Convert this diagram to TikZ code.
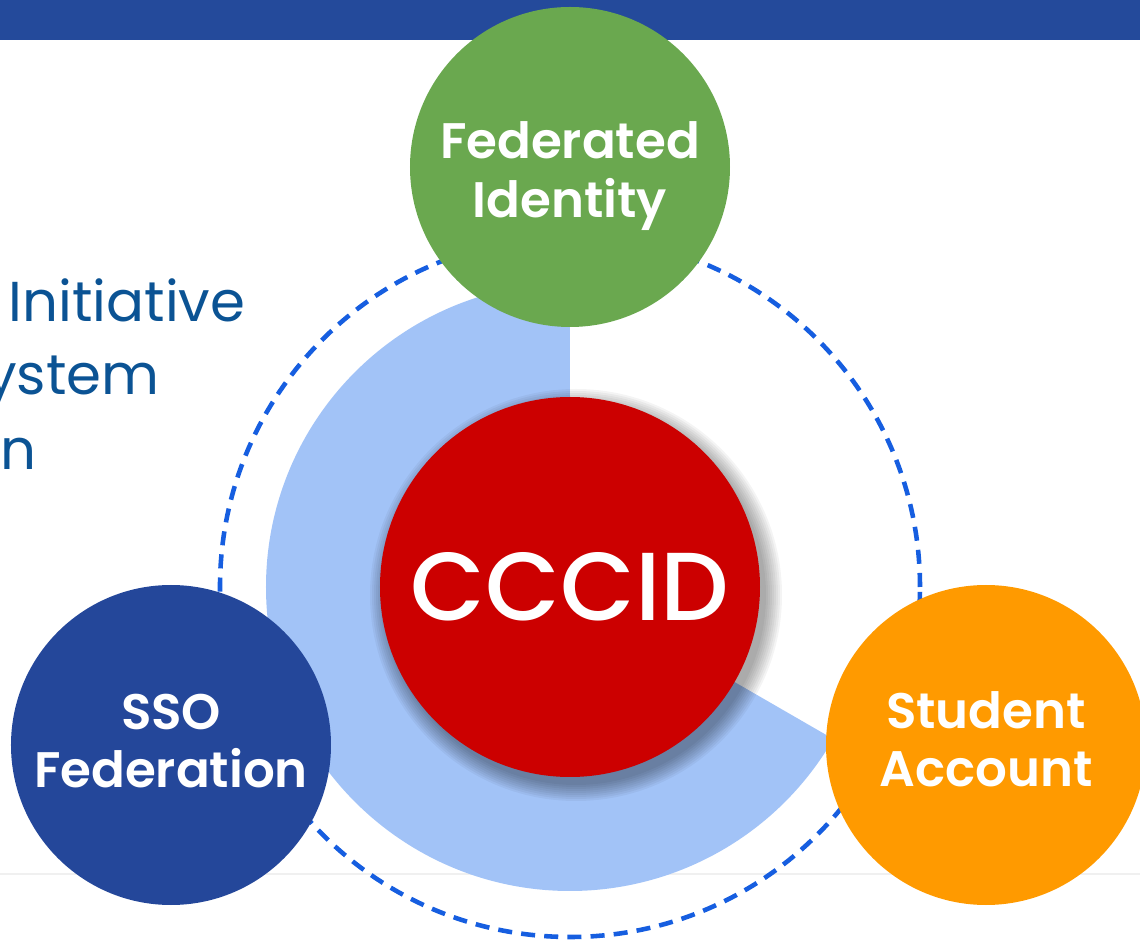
\documentclass[tikz,border=0pt]{standalone}
\usepackage{fontspec}
\setmainfont{Poppins}
\newfontfamily\semifont{Poppins SemiBold}
\newfontfamily\medfont{Poppins Medium}
\usepackage{tikz}
\definecolor{barblue}{RGB}{36, 74, 155}
\definecolor{ringblue}{RGB}{22, 94, 224}
\definecolor{secblue}{RGB}{162, 195, 247}
\definecolor{cccred}{RGB}{204, 0, 0}
\definecolor{fedgreen}{RGB}{106, 168, 79}
\definecolor{ssoblue}{RGB}{36, 71, 154}
\definecolor{studorange}{RGB}{255, 154, 0}
\definecolor{textblue}{RGB}{11, 83, 148}

\begin{document}
\begin{tikzpicture}[
  bubble/.style={circle, minimum size=3.2cm, inner sep=0pt},
  bubtext/.style={align=center, text=white, inner sep=0pt, font=\semifont\fontsize{14.2}{16.6}\selectfont},
  sidetext/.style={text=textblue, font=\fontsize{16}{18}\selectfont, inner sep=0pt}]
  \useasboundingbox (-5.70,-3.54) rectangle (5.70,5.87);

  % Header bar and footer rule
  \fill[barblue] (-5.70,5.47) rectangle (5.70,5.87);
  \draw[gray!12, line width=0.6pt] (-5.70,-2.87) -- (5.70,-2.87);

  % Title lines cut off at the left edge
  \node[sidetext, anchor=base west] (initline) at (-5.62, 2.65) {Initiative};
  \node[sidetext, anchor=base east] (sysline) at (-4.10, 1.92) {ystem};
  \node[sidetext, anchor=base east] (nline) at (-5.33, 1.17) {n};

  % Dashed ring
  \draw[ringblue, line width=1.3pt, dash pattern=on 4pt off 2.6pt] (0,0) circle[radius=3.5];

  % Light blue sector
  \fill[secblue] (0,0) -- (90:3.04) arc[start angle=90, end angle=330, radius=3.04] -- cycle;

  % Soft shadow of the centre
  \foreach \r in {1.90,1.92,...,2.08}
    \fill[black, opacity=0.045] (0.06,-0.08) circle[radius=\r];

  % Centre and the three pillars
  \node[bubble, minimum size=3.8cm, fill=cccred, text=white, font=\medfont\fontsize{27.5}{30}\selectfont] (cccid) at (0,0) {CCCID};
  \node[bubble, fill=fedgreen] (fed) at (0, 4.20) {};
  \node[bubble, fill=ssoblue] (sso) at (-3.99, -1.58) {};
  \node[bubble, fill=studorange] (stud) at (4.16, -1.58) {};

  \node[bubtext] (fedtext) at ([yshift=-0.09cm]fed.center) {Federated\\Identity};
  \node[bubtext] (ssotext) at ([yshift=0.04cm]sso.center) {SSO\\Federation};
  \node[bubtext] (studtext) at ([yshift=0.06cm]stud.center) {Student\\Account};
\end{tikzpicture}
\end{document}
